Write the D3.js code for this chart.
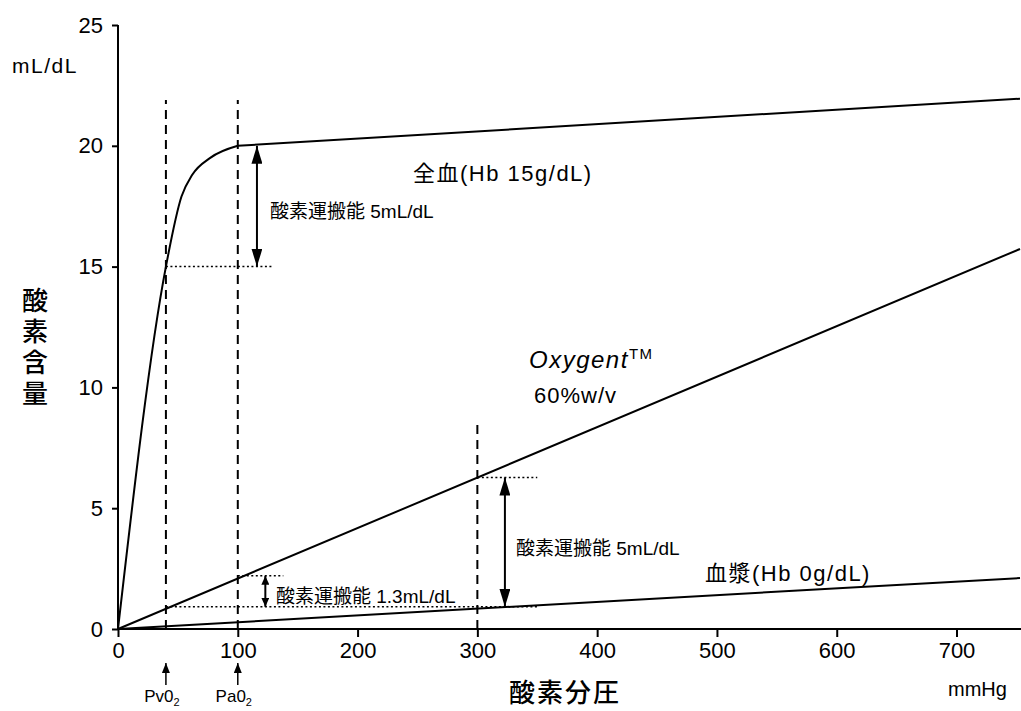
<!DOCTYPE html>
<html><head><meta charset="utf-8">
<script src="https://cdn.jsdelivr.net/npm/d3@7"></script>
<style>
body{margin:0;background:#fff;}
text{font-family:"Liberation Sans","Noto Sans CJK JP",sans-serif;fill:#000;}
</style></head><body>
<svg id="c" width="1021" height="711"></svg>
<script>
const xTicks=[0,100,200,300,400,500,600,700];
const yTicks=[0,5,10,15,20,25];
const wholeBloodCurveX=[0,40,53,62,77,100];
const wholeBloodCurveY=[0,15,17.9,18.8,19.5,20.0];
const wholeBloodLineX=[100,753];
const wholeBloodLineY=[20.0,21.95];
const oxygentX=[0,753];
const oxygentY=[0,15.73];
const plasmaX=[0,753];
const plasmaY=[0,2.11];
const dashedX=[40,100,300];
const dashedTop=[21.9,21.9,8.45];
const dottedY=[15,2.2,6.27,0.92];
const dottedFrom=[40,100,300,40];
const dottedTo=[130,138,350,350];
const arrowX=[116,123,323];
const arrowFrom=[20,2.2,6.27];
const arrowTo=[15,0.92,0.92];

const svg=d3.select("#c");
const x=d3.scaleLinear().domain([0,753]).range([118,1020]);
const y=d3.scaleLinear().domain([0,25]).range([629,25]);

const defs=svg.append("defs");
function marker(id,len,wid){
 defs.append("marker").attr("id",id).attr("viewBox","0 0 10 10").attr("refX",10).attr("refY",5)
  .attr("markerWidth",len).attr("markerHeight",wid).attr("markerUnits","userSpaceOnUse").attr("orient","auto-start-reverse")
  .attr("preserveAspectRatio","none")
  .append("path").attr("d","M0,0L10,5L0,10Z").attr("fill","#000");
}
marker("ah",18,11);
marker("ahs",9,8);
marker("aht",10,8);

// axes
const xa=svg.append("g").attr("transform","translate(0,629)").call(d3.axisBottom(x).tickValues(xTicks).tickSize(8).tickPadding(5));
xa.select(".domain").attr("d","M118,0H1021").attr("stroke-width",2);
xa.selectAll(".tick line").attr("stroke-width",2);
xa.selectAll("text").style("font-size","22px");
const ya=svg.append("g").attr("transform","translate(118,0)").call(d3.axisLeft(y).tickValues(yTicks).tickSize(6).tickPadding(9));
ya.select(".domain").attr("d","M0,25V629").attr("stroke-width",2);
ya.selectAll(".tick line").attr("stroke-width",2);
ya.selectAll("text").style("font-size","22px");

// lines
const line=d3.line().x(d=>x(d[0])).y(d=>y(d[1]));
const curve=d3.line().curve(d3.curveMonotoneX).x(d=>x(d[0])).y(d=>y(d[1]));
svg.append("path").attr("d",curve(wholeBloodCurveX.map((v,i)=>[v,wholeBloodCurveY[i]])))
 .attr("fill","none").attr("stroke","#000").attr("stroke-width",2);
svg.append("path").attr("d",line(wholeBloodLineX.map((v,i)=>[v,wholeBloodLineY[i]])))
 .attr("fill","none").attr("stroke","#000").attr("stroke-width",2);
svg.append("path").attr("d",line(oxygentX.map((v,i)=>[v,oxygentY[i]]))).attr("fill","none").attr("stroke","#000").attr("stroke-width",2);
svg.append("path").attr("d",line(plasmaX.map((v,i)=>[v,plasmaY[i]]))).attr("fill","none").attr("stroke","#000").attr("stroke-width",2);

dashedX.forEach((v,i)=>{
 svg.append("line").attr("x1",x(v)).attr("x2",x(v)).attr("y1",y(0)).attr("y2",y(dashedTop[i]))
  .attr("stroke","#000").attr("stroke-width",2).attr("stroke-dasharray","9,6");
});
dottedY.forEach((v,i)=>{
 svg.append("line").attr("x1",x(dottedFrom[i])).attr("x2",x(dottedTo[i])).attr("y1",y(v)).attr("y2",y(v))
  .attr("stroke","#000").attr("stroke-width",1.5).attr("stroke-dasharray","2,2.5");
});
arrowX.forEach((v,i)=>{
 svg.append("line").attr("x1",x(v)).attr("x2",x(v)).attr("y1",y(arrowFrom[i])).attr("y2",y(arrowTo[i]))
  .attr("stroke","#000").attr("stroke-width",2)
  .attr("marker-start",i==1?"url(#ahs)":"url(#ah)").attr("marker-end",i==1?"url(#ahs)":"url(#ah)");
});

// Pv/Pa arrows
const markX=[40,100];
const markLabel=["Pv0","Pa0"];
markX.forEach((v,i)=>{
 svg.append("line").attr("x1",x(v)).attr("x2",x(v)).attr("y1",685).attr("y2",663)
  .attr("stroke","#000").attr("stroke-width",1.5).attr("marker-end","url(#aht)");
 const t=svg.append("text").attr("x",x(v)-4).attr("y",702).attr("text-anchor","middle").style("font-size","17px");
 t.append("tspan").text(markLabel[i]);
 t.append("tspan").attr("dy",4).style("font-size","11px").text("2");
});

function lab(txt,px,py,size,opts={}){
 const t=svg.append("text").attr("x",px).attr("y",py).style("font-size",size+"px").text(txt);
 if(opts.anchor)t.attr("text-anchor",opts.anchor);
 if(opts.italic)t.style("font-style","italic");
 if(opts.weight)t.style("font-weight",opts.weight);
 if(opts.ls)t.style("letter-spacing",opts.ls+"px");
 return t;
}
lab("mL/dL",12,73,21,{ls:1.5});
["酸","素","含","量"].forEach((c,i)=>lab(c,35,310+i*31,26,{anchor:"middle",weight:"500"}));
lab("酸素分圧",565,702,26,{anchor:"middle",weight:"500",ls:2});
lab("mmHg",948,696,20);
lab("全血(Hb 15g/dL)",413,181,22,{ls:1.5});
lab("酸素運搬能 5mL/dL",270,218,19);
const ox=lab("Oxygent",529,368,24,{italic:true,ls:1.5});
ox.append("tspan").attr("dy",-9).style("font-size","15px").style("font-style","normal").text("TM");
lab("60%w/v",534,403,22,{ls:1});
lab("酸素運搬能 5mL/dL",516,555,19);
lab("血漿(Hb 0g/dL)",705,581,22,{ls:1.5});
lab("酸素運搬能 1.3mL/dL",276,603,19);
</script></body></html>
